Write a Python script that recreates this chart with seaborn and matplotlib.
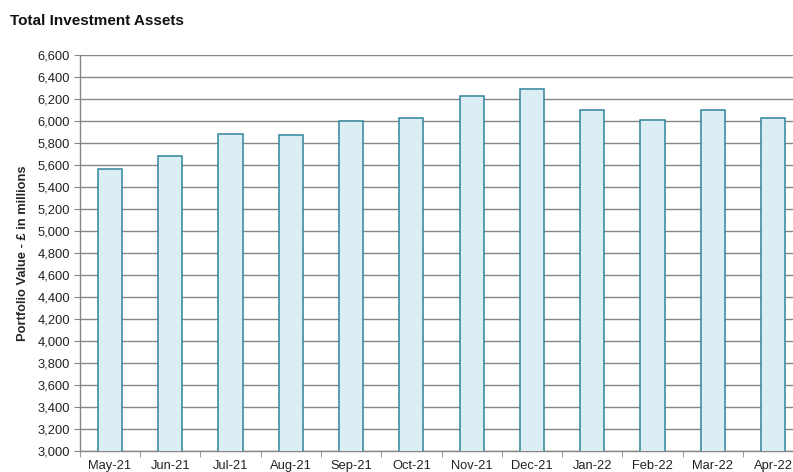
import matplotlib
matplotlib.use("Agg")
import matplotlib.pyplot as plt
import seaborn as sns
import pandas as pd
import numpy as np
from matplotlib.ticker import FuncFormatter, MultipleLocator, FixedLocator

months = ["May-21", "Jun-21", "Jul-21", "Aug-21", "Sep-21", "Oct-21",
          "Nov-21", "Dec-21", "Jan-22", "Feb-22", "Mar-22", "Apr-22"]
values = [5565, 5679, 5885, 5873, 6003, 6030, 6225, 6294, 6103, 6012, 6103, 6027]

df = pd.DataFrame({"Month": months, "Value": values})

sns.set_style("white")
plt.rcParams["font.family"] = ["Liberation Sans", "DejaVu Sans"]

fig = plt.figure(figsize=(7.93, 4.72), dpi=100)
ax = fig.add_axes([0.1005, 0.0439, 0.9125, 0.8396])

sns.barplot(data=df, x="Month", y="Value", ax=ax, color="#DAEEF3",
            edgecolor="#31849B", linewidth=1.1, width=0.4, zorder=3,
            saturation=1)

ax.set_ylim(3000, 6600)
ax.set_xlim(-0.5, len(months) - 0.5)
ax.yaxis.set_major_locator(MultipleLocator(200))
ax.yaxis.set_major_formatter(FuncFormatter(lambda v, p: f"{int(v):,}"))
ax.grid(axis="y", color="#868686", linewidth=1.0, zorder=0)
ax.set_axisbelow(True)

for s in ["top", "right"]:
    ax.spines[s].set_visible(False)
for s in ["left", "bottom"]:
    ax.spines[s].set_color("#868686")
    ax.spines[s].set_linewidth(1.0)

ax.tick_params(axis="y", which="major", left=True, length=4, color="#868686",
               labelsize=9.3, labelcolor="#222222", pad=3)
ax.tick_params(axis="x", which="major", bottom=False, labelsize=9.3,
               labelcolor="#222222", pad=3)
ax.xaxis.set_minor_locator(FixedLocator(np.arange(-0.5, len(months), 1.0)))
ax.tick_params(axis="x", which="minor", bottom=True, length=4, color="#868686")

ax.set_xlabel("")
ax.set_ylabel("Portfolio Value - £ in millions", fontsize=9.3, fontweight="bold",
              labelpad=6)

fig.text(0.0126, 0.955, "Total Investment Assets", fontsize=11,
         fontweight="bold", ha="left", va="center", color="#111111")

fig.savefig("out.png", dpi=100)
